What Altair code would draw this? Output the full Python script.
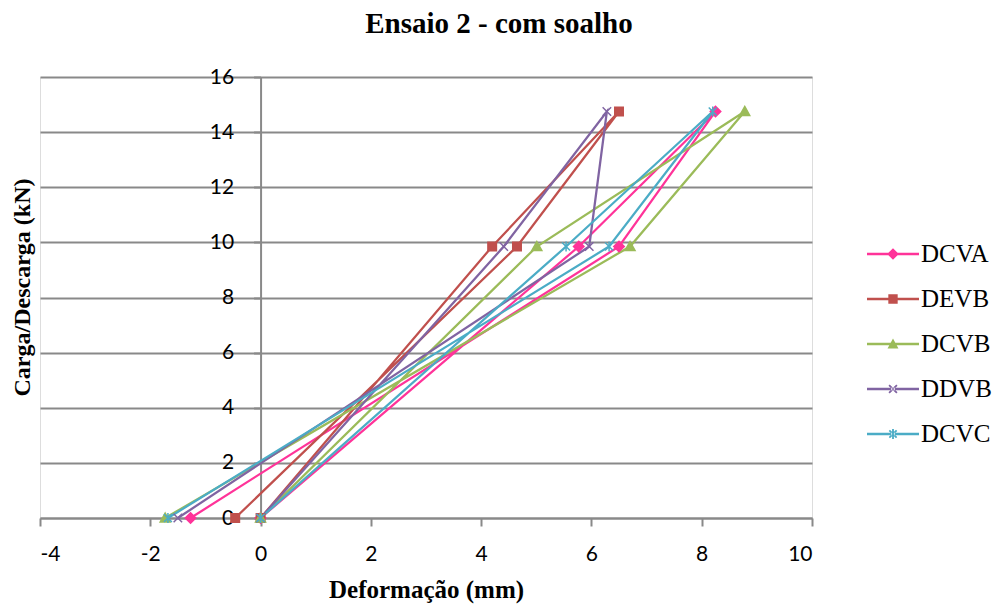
import math
import altair as alt
import pandas as pd

# ---- data ----
series = ["DCVA", "DEVB", "DCVB", "DDVB", "DCVC"]
load_kn = [0, 9.85, 14.75, 9.85, 0]
x_dcva = [0, 5.77, 8.25, 6.50, -1.27]
x_devb = [0, 4.20, 6.50, 4.65, -0.46]
x_dcvb = [0, 5.01, 8.78, 6.70, -1.73]
x_ddvb = [0, 4.41, 6.28, 5.96, -1.50]
x_dcvc = [0, 5.54, 8.20, 6.32, -1.68]
x_ticks = [-4, -2, 0, 2, 4, 6, 8, 10]
y_ticks = [0, 2, 4, 6, 8, 10, 12, 14, 16]

# ---- styles ----
colors = ["#FF3399", "#C0504D", "#9BBB59", "#8064A2", "#4BACC6"]
point_paths = [
    "M0,-1.05L1.05,0L0,1.05L-1.05,0Z",
    "M-0.85,-0.85H0.85V0.85H-0.85Z",
    "M0,-1.0L1.0,0.8L-1.0,0.8Z",
    "M-0.85,-0.85L0.85,0.85M-0.85,0.85L0.85,-0.85",
    "M-0.8,-0.8L0.8,0.8M-0.8,0.8L0.8,-0.8M0,-1.0V1.0",
]
bar = "M-2,-0.095H2V0.095H-2Z"


def thin(x1, y1, x2, y2, w=0.07):
    dx, dy = x2 - x1, y2 - y1
    L = math.hypot(dx, dy)
    nx, ny = -dy / L * w, dx / L * w
    return (f"M{x1+nx:.3f},{y1+ny:.3f}L{x2+nx:.3f},{y2+ny:.3f}"
            f"L{x2-nx:.3f},{y2-ny:.3f}L{x1-nx:.3f},{y1-ny:.3f}Z")


legend_paths = [
    bar + "M0,-0.45L0.45,0L0,0.45L-0.45,0Z",
    bar + "M-0.36,-0.36H0.36V0.36H-0.36Z",
    bar + "M0,-0.42L0.42,0.34L-0.42,0.34Z",
    bar + thin(-0.3, -0.3, 0.3, 0.3) + thin(-0.3, 0.3, 0.3, -0.3),
    bar + thin(-0.28, -0.28, 0.28, 0.28) + thin(-0.28, 0.28, 0.28, -0.28) + thin(0, -0.38, 0, 0.38),
]

xs_all = [x_dcva, x_devb, x_dcvb, x_ddvb, x_dcvc]
rows = []
for si, (name, xs) in enumerate(zip(series, xs_all)):
    for i, (xv, yv) in enumerate(zip(xs, load_kn)):
        rows.append(dict(serie=name, sidx=si, idx=i, x=xv, y=yv, col=colors[si]))
df = pd.DataFrame(rows)

GRAY = "#898989"
PLOT_W, PLOT_H = 772, 441
x0_px = PLOT_W * 4 / 14.0

X = alt.X("x:Q", scale=alt.Scale(domain=[-4, 10], nice=False, zero=False),
          axis=alt.Axis(values=x_ticks, title="Deformação (mm)", grid=False,
                        labelExpr="'' + datum.value",
                        domainColor=GRAY, domainWidth=2, tickColor=GRAY, tickWidth=2,
                        tickSize=8, labelPadding=17, labelFont="Lato", labelFontSize=21,
                        labelColor="black", titleFont="Liberation Serif", titleFontSize=25,
                        titleFontWeight="bold", titleColor="black", titleY=79,
                        titleBaseline="alphabetic"))
Y = alt.Y("y:Q", scale=alt.Scale(domain=[0, 16], nice=False, zero=False),
          axis=alt.Axis(values=y_ticks, title="Carga/Descarga (kN)", grid=True,
                        gridColor=GRAY, gridWidth=2, offset=-x0_px,
                        domainColor=GRAY, domainWidth=2, tickColor=GRAY, tickWidth=2,
                        tickSize=7, labelPadding=20, labelFont="Lato", labelFontSize=21,
                        labelColor="black", titleFont="Liberation Serif", titleFontSize=24,
                        titleFontWeight="bold", titleColor="black",
                        titleX=30 - 40 - x0_px, titleY=210, titleAngle=270,
                        titleBaseline="alphabetic", titleAlign="center"))

lines = alt.Chart(df).mark_line(strokeWidth=2.25).encode(
    x=X, y=Y,
    stroke=alt.Stroke("col:N", scale=None),
    detail="serie:N",
    order="idx:Q",
)

point_layers = []
for si, name in enumerate(series):
    point_layers.append(
        alt.Chart(df).transform_filter(alt.datum.serie == name).mark_point(
            filled=True, size=100, strokeWidth=1.5, opacity=1,
            shape=point_paths[si], fill=colors[si], stroke=colors[si],
        ).encode(x=X, y=Y)
    )

leg = alt.Legend(title=None, orient="none", legendX=840, legendY=164, direction="vertical",
                 labelFont="Liberation Serif", labelFontSize=25, labelColor="black",
                 symbolSize=676, symbolStrokeWidth=0, labelOffset=15, rowPadding=19,
                 padding=0, labelLimit=0)

legend_layer = alt.Chart(df).transform_filter("false").mark_point(
    filled=True, size=676, opacity=1).encode(
    x=X, y=Y,
    color=alt.Color("serie:N", scale=alt.Scale(domain=series, range=colors), legend=leg),
    shape=alt.Shape("serie:N", scale=alt.Scale(domain=series, range=legend_paths), legend=leg),
)

chart = alt.layer(lines, *point_layers, legend_layer).properties(
    width=PLOT_W, height=PLOT_H,
    title=alt.Title("Ensaio 2 - com soalho", font="Liberation Serif", fontSize=29,
                    fontWeight="bold", color="black", anchor="middle", frame="group",
                    dx=73, offset=27),
    autosize=alt.AutoSizeParams(type="none"),
    padding={"left": 32, "top": 69, "right": 181, "bottom": 89},
).configure_view(stroke=None).configure(background="white")

chart.save("out.html", embed_options={"renderer": "svg", "actions": False})
